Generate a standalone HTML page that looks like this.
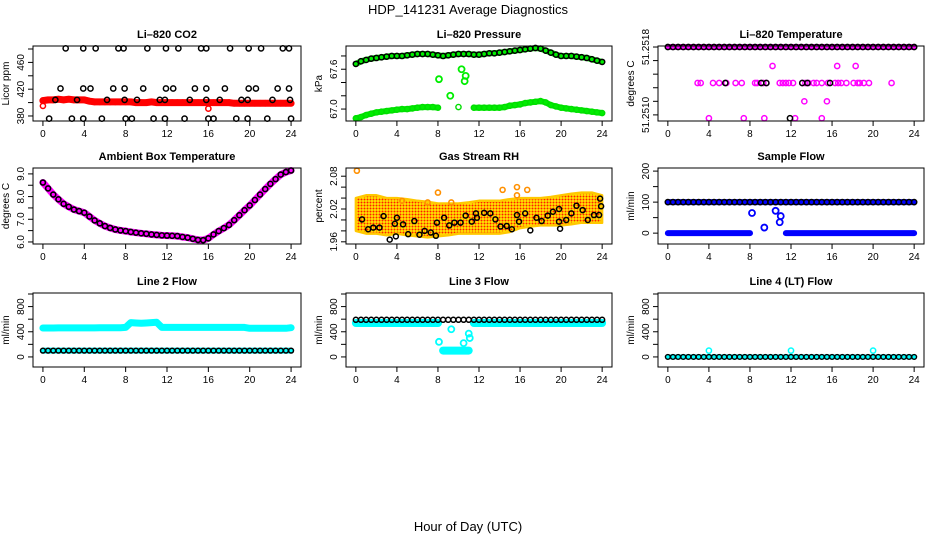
<!DOCTYPE html>
<html><head><meta charset="utf-8"><style>
html,body{margin:0;padding:0;background:#fff;}
svg{display:block;font-family:"Liberation Sans",sans-serif;}
</style></head><body>
<svg id="chart" width="936" height="540" viewBox="0 0 936 540" xmlns="http://www.w3.org/2000/svg">
<defs>
<pattern id="rhpat" width="3" height="3" patternUnits="userSpaceOnUse">
<rect width="3" height="3" fill="#ffe800"/><circle cx="1.5" cy="1.5" r="1" fill="#ff2000"/>
</pattern>
</defs>
<text x="468" y="14" text-anchor="middle" font-size="13">HDP_141231  Average Diagnostics</text>
<text x="468" y="531" text-anchor="middle" font-size="13">Hour of Day (UTC)</text>
</svg>
<script>
// ---------- data ----------
const hours = [0,0.5,1,1.5,2,2.5,3,3.5,4,4.5,5,5.5,6,6.5,7,7.5,8,8.5,9,9.5,10,10.5,11,11.5,12,12.5,13,13.5,14,14.5,15,15.5,16,16.5,17,17.5,18,18.5,19,19.5,20,20.5,21,21.5,22,22.5,23,23.5,24];
const xTicks = [0,4,8,12,16,20,24];
// CO2
const co2Red = [403,404,404,405,404,405,404,404,404,402,401,401,401,401,401,401,401,401,400,400,400,401,400,400,400,400,400,400,400,400,400,400,400,400,400,400,400,399,399,399,399,399,399,399,399,399,399,399,399];
const co2RedOutT = [0,16];
const co2RedOutV = [395,391];
const co2BlkT = [2.2,3.9,5.1,7.3,7.8,10.1,11.9,13.1,15.3,15.8,18.1,19.9,21.1,23.2,23.8, 1.7,3.9,4.6,6.8,7.9,9.7,11.9,12.6,14.7,15.8,17.6,19.9,20.6,22.7,23.8, 1.2,3.3,6.2,7.9,9.1,11.3,11.8,14.2,15.8,17.1,19.2,19.8,22.2,23.9, 0.6,2.8,3.9,5.7,8.0,8.6,10.7,11.8,13.7,16.0,16.5,18.7,19.8,21.7,24.0];
const co2BlkV = [481,481,481,481,481,481,481,481,481,481,481,481,481,481,481, 421,421,421,421,421,421,421,421,421,421,421,421,421,421,421, 404,404,404,404,404,404,404,404,404,404,404,404,404,404, 376,376,376,376,376,376,376,376,376,376,376,376,376,376,376];
// Pressure
const presTop = [67.68,67.72,67.74,67.76,67.77,67.78,67.79,67.8,67.8,67.8,67.81,67.82,67.83,67.83,67.83,67.82,67.81,67.8,67.81,67.82,67.83,67.83,67.83,67.82,67.82,67.83,67.84,67.84,67.85,67.86,67.87,67.88,67.89,67.9,67.91,67.92,67.91,67.88,67.85,67.82,67.8,67.8,67.8,67.79,67.78,67.77,67.75,67.73,67.71];
const presLow = [66.86,66.88,66.91,66.93,66.95,66.96,66.97,66.98,66.99,67.0,67.0,67.01,67.02,67.03,67.03,67.03,67.02,null,null,null,67.03,null,null,67.02,67.02,67.02,67.02,67.02,67.02,67.03,67.05,67.06,67.07,67.09,67.1,67.11,67.12,67.1,67.06,67.04,67.02,67.01,67.0,66.99,66.98,66.97,66.96,66.95,66.94];
const presOutT = [8.1,9.2,10.3,10.7,10.6];
const presOutV = [67.45,67.2,67.6,67.5,67.42];
// Li-820 temperature
const ltMagT = [2.9,3.2,4.4,5.0,5.7,6.6,7.2,8.5,8.7,9.3,9.6,10.9,11.2,11.5,11.8,12.2,13.1,13.4,13.7,14.2,14.5,15.0,15.6,16.3,16.6,16.9,17.4,18.1,18.5,18.7,19.1,19.6,21.8, 10.2,16.5,18.3, 13.3,15.5, 4.0,7.4,9.4,12.4,15.0];
const ltMagV = [51.25127,51.25127,51.25127,51.25127,51.25127,51.25127,51.25127,51.25127,51.25127,51.25127,51.25127,51.25127,51.25127,51.25127,51.25127,51.25127,51.25127,51.25127,51.25127,51.25127,51.25127,51.25127,51.25127,51.25127,51.25127,51.25127,51.25127,51.25127,51.25127,51.25127,51.25127,51.25127,51.25127, 51.25152,51.25152,51.25152, 51.2510,51.2510, 51.25075,51.25075,51.25075,51.25075,51.25075];
const ltBlkOutT = [5.6,9.1,9.6,13.1,13.6,15.8,11.9];
const ltBlkOutV = [51.25127,51.25127,51.25127,51.25127,51.25127,51.25127,51.25075];
const ltTop = 51.2518;
// Ambient temperature
const ambT = [8.62,8.36,8.09,7.88,7.68,7.55,7.43,7.36,7.29,7.12,6.95,6.82,6.70,6.62,6.55,6.51,6.48,6.44,6.41,6.38,6.36,6.33,6.31,6.29,6.28,6.27,6.26,6.22,6.19,6.14,6.09,6.08,6.16,6.33,6.48,6.61,6.75,6.96,7.18,7.40,7.61,7.85,8.09,8.33,8.56,8.77,8.97,9.08,9.15];
// Gas stream RH
const rhEnvT = [0,1,2,3,4,5,6,7,8,9,10,11,12,13,14,15,16,17,18,19,20,21,22,23,24];
const rhLow = [1.98,1.975,1.975,1.972,1.975,1.972,1.97,1.968,1.97,1.972,1.975,1.975,1.975,1.975,1.975,1.978,1.985,1.988,1.99,1.99,1.99,1.992,1.995,1.995,1.995];
const rhHigh = [2.04,2.045,2.045,2.04,2.04,2.038,2.035,2.033,2.03,2.03,2.03,2.032,2.035,2.035,2.035,2.038,2.04,2.04,2.04,2.042,2.045,2.048,2.05,2.05,2.045];
const rhOrT = [0.1,8.0,4.5,14.3,15.7,15.7,16.7,9.3,7.0];
const rhOrV = [2.09,2.05,2.035,2.055,2.06,2.045,2.055,2.032,2.032];
const rhBlkT = [0.6,1.2,1.7,2.3,2.7,3.3,3.8,3.9,4.0,4.6,5.1,5.7,6.2,6.7,7.3,7.8,7.9,8.6,9.1,9.6,10.2,10.7,11.3,11.7,11.8,12.5,13.1,13.6,14.1,14.7,15.2,15.7,15.9,16.5,17.0,17.6,18.1,18.7,19.2,19.8,19.8,19.9,20.5,21.0,21.5,22.1,22.6,23.2,23.7,23.8,23.9];
const rhBlkV = [2.001,1.983,1.986,1.986,2.007,1.964,1.993,1.970,2.004,1.992,1.974,1.998,1.973,1.980,1.977,1.971,1.995,2.004,1.990,1.995,1.995,2.008,1.997,2.012,2.004,2.013,2.012,2.001,1.988,1.989,1.983,2.009,1.997,2.012,1.981,2.004,1.998,2.008,2.015,2.020,1.997,1.984,2.000,2.012,2.026,2.018,2.000,2.009,2.009,2.039,2.025];
// Sample flow
const sfHigh = [100,100,100,100,100,100,100,100,100,100,100,100,100,100,100,100,100,100,100,100,100,100,100,100,100,100,100,100,100,100,100,100,100,100,100,100,100,100,100,100,100,100,100,100,100,100,100,100,100];
const sfLow = [0,0,0,0,0,0,0,0,0,0,0,0,0,0,0,0,0,null,null,null,0,null,null,0,0,0,0,0,0,0,0,0,0,0,0,0,0,0,0,0,0,0,0,0,0,0,0,0,0];
const sfOutT = [8.2,9.4,10.5,11.0,10.9];
const sfOutV = [65,18,72,55,35];
// Line 2
const l2Top = [460,460,460,462,462,462,462,462,462,462,462,465,465,465,465,465,470,545,540,535,540,545,550,470,470,470,470,470,470,470,470,470,470,470,470,470,470,470,470,470,455,455,455,455,455,455,455,455,465];
const l2Low = [100,100,100,100,100,100,100,100,100,100,100,100,100,100,100,100,100,100,100,100,100,100,100,100,100,100,100,100,100,100,100,100,100,100,100,100,100,100,100,100,100,100,100,100,100,100,100,100,100];
// Line 3
const l3Cyan = [540,540,540,540,540,540,540,540,540,540,540,540,540,540,540,540,540,100,100,100,100,100,100,540,540,540,540,540,540,540,540,540,540,540,540,540,540,540,540,540,540,540,540,540,540,540,540,540,540];
const l3Blk = [590,590,590,590,590,590,590,590,590,590,590,590,590,590,590,590,590,590,590,590,590,590,590,590,590,590,590,590,590,590,590,590,590,590,590,590,590,590,590,590,590,590,590,590,590,590,590,590,590];
const l3OutT = [8.1,9.3,10.5,11.0,11.1];
const l3OutV = [240,440,220,370,300];
// Line 4
const l4Zero = [0,0,0,0,0,0,0,0,0,0,0,0,0,0,0,0,0,0,0,0,0,0,0,0,0,0,0,0,0,0,0,0,0,0,0,0,0,0,0,0,0,0,0,0,0,0,0,0,0];
const l4SpikeT = [4,12,20];
const l4SpikeV = [100,100,100];

// ---------- drawing ----------
const NS = 'http://www.w3.org/2000/svg';
const svg = document.getElementById('chart');
function mk(tag, attrs, parent){ const e=document.createElementNS(NS,tag); for(const k in attrs) e.setAttribute(k,attrs[k]); (parent||svg).appendChild(e); return e; }

function panel(name, title, ylab, x0, y0, x1, y1, ylim, yTicks, yLabels){
  const g = mk('g',{});
  
  
  const sx = t => x0 + (t - (-0.96)) / 25.92 * (x1 - x0);
  const sy = v => y1 - (v - ylim[0]) / (ylim[1] - ylim[0]) * (y1 - y0);
  const tt = mk('text',{x:(x0+x1)/2, y:y0-8, 'text-anchor':'middle','font-size':11,'font-weight':'bold'}, g);
  tt.textContent = title;
  
  
  const yl = mk('text',{x:0,y:0,'text-anchor':'middle','font-size':10,transform:`translate(${x0-24},${(y0+y1)/2}) rotate(-90)`}, g);
  yl.textContent = ylab;
  
  
  const plot = mk('g',{}, g);
  
  
  const box = mk('rect',{x:x0,y:y0,width:x1-x0,height:y1-y0,fill:'none',stroke:'#000','stroke-width':1}, g);
  
  
  xTicks.forEach(t=>{
    mk('line',{x1:sx(t),x2:sx(t),y1:y1,y2:y1+5,stroke:'#000'}, g);
    const lb = mk('text',{x:sx(t),y:y1+16,'text-anchor':'middle','font-size':10}, g);
    lb.textContent = t;
    
    
  });
  yTicks.forEach((v,i)=>{
    mk('line',{x1:x0-5,x2:x0,y1:sy(v),y2:sy(v),stroke:'#000'}, g);
    if(yLabels[i]){
      const lb = mk('text',{x:0,y:0,'text-anchor':'middle','font-size':10,transform:`translate(${x0-9},${sy(v)}) rotate(-90)`}, g);
      lb.textContent = yLabels[i];
      
      
    }
  });
  return {g:plot, sx, sy};
}
function pts(p, ts, vs, color, nm, r, sw){
  for(let i=0;i<ts.length;i++){
    if(vs[i]===null||vs[i]===undefined) continue;
    const c = mk('circle',{cx:p.sx(ts[i]),cy:p.sy(vs[i]),r:r||2.6,fill:'none',stroke:color,'stroke-width':sw||1.5}, p.g);
    
    
  }
}
function band(p, ts, vs, color, nm, w){
  let seg=[]; let lastY=null;
  const flush=()=>{ if(seg.length>1){ const l=mk('polyline',{points:seg.join(' '),fill:'none',stroke:color,'stroke-width':w,'stroke-linejoin':'round','stroke-linecap':'round'}, p.g);
    
     } seg=[]; };
  for(let i=0;i<ts.length;i++){
    if(vs[i]===null){flush();lastY=null;continue;}
    const y = p.sy(vs[i]);
    if(lastY!==null && Math.abs(y-lastY)>12) flush();
    seg.push(p.sx(ts[i]).toFixed(1)+','+y.toFixed(1));
    lastY = y;
  }
  flush();
}

// Row 1
let p = panel('co2-panel','Li\u2013820 CO2','Licor ppm',33,46,301,121,[372.5,484.5],[380,400,420,440,460,480],['380','','420','','460','']);
band(p,hours,co2Red,'#ff0000','co2-red-band',7);
pts(p,hours,co2Red,'#ff0000','co2-red-point');
pts(p,co2RedOutT,co2RedOutV,'#ff0000','co2-red-outlier');
pts(p,co2BlkT,co2BlkV,'#000','co2-black-point');

p = panel('pressure-panel','Li\u2013820 Pressure','kPa',346,46,612,121,[66.82,67.95],[67.0,67.2,67.4,67.6,67.8],['67.0','','','67.6','']);
band(p,hours,presTop,'#00ee00','pressure-green-top',6);
band(p,hours,presLow,'#00ee00','pressure-green-low',6);
pts(p,hours,presLow,'#00dd00','pressure-green-point',2.6,1.4);
pts(p,presOutT,presOutV,'#00ee00','pressure-green-outlier',3,1.8);
pts(p,hours,presTop,'#000','pressure-black-point',2.6,1.5);

p = panel('li-temp-panel','Li\u2013820 Temperature','degrees C',658,46,924,121,[51.25071,51.251815],[51.2518,51.2516,51.2514,51.2512,51.2510,51.2508],['51.2518','','','','','51.2510']);
band(p,hours,hours.map(()=>ltTop),'#ff00ff','li-temp-magenta-band',6);
pts(p,ltMagT,ltMagV,'#ff00ff','li-temp-magenta-point',2.6,1.5);
pts(p,ltBlkOutT,ltBlkOutV,'#000','li-temp-black-outlier');
pts(p,hours,hours.map(()=>ltTop),'#000','li-temp-black-point');

// Row 2
p = panel('ambient-temp-panel','Ambient Box Temperature','degrees C',33,168,301,244,[5.91,9.26],[6,6.5,7,7.5,8,8.5,9],['6.0','','7.0','','8.0','','9.0']);
band(p,hours,ambT,'#ff00ff','ambient-magenta-band',7);
pts(p,hours,ambT,'#000','ambient-black-point',2.5,1.6);

p = panel('rh-panel','Gas Stream RH','percent',346,168,612,244,[1.956,2.095],[1.96,1.98,2.00,2.02,2.04,2.06,2.08],['1.96','','','2.02','','','2.08']);
{
  const top = rhEnvT.map((t,i)=>p.sx(t).toFixed(1)+','+p.sy(rhHigh[i]).toFixed(1));
  const bot = rhEnvT.map((t,i)=>p.sx(t).toFixed(1)+','+p.sy(rhLow[i]).toFixed(1)).reverse();
  const poly = mk('polygon',{points:top.concat(bot).join(' '),fill:'url(#rhpat)',stroke:'#ffc800','stroke-width':2.5,'stroke-linejoin':'round'}, p.g);
  
  
}
pts(p,rhOrT,rhOrV,'#ff9000','rh-orange-outlier',2.5,1.6);
pts(p,rhBlkT,rhBlkV,'#000','rh-black-point',2.5,1.5);

p = panel('sample-flow-panel','Sample Flow','ml/min',658,168,924,244,[-35,210],[0,50,100,150,200],['0','','100','','200']);
band(p,hours,sfHigh,'#0000ff','sample-flow-blue-high',6);
band(p,hours,sfLow,'#0000ff','sample-flow-blue-low',6);
pts(p,sfOutT,sfOutV,'#0000ff','sample-flow-blue-outlier',3,1.8);
pts(p,hours,sfHigh,'#000','sample-flow-black-point');

// Row 3
const fl = [-160,1016], flT=[0,200,400,600,800,1000], flL=['0','','400','','800',''];
p = panel('line2-flow-panel','Line 2 Flow','ml/min',33,293,301,367,fl,flT,flL);
band(p,hours,l2Top,'#00ffff','line2-cyan-high',7);
band(p,hours,l2Low,'#00ffff','line2-cyan-low',6);
pts(p,hours,l2Low,'#000','line2-black-point',2.4,1.5);

p = panel('line3-flow-panel','Line 3 Flow','ml/min',346,293,612,367,fl,flT,flL);
band(p,hours,l3Cyan,'#00ffff','line3-cyan-band',8);
pts(p,l3OutT,l3OutV,'#00ffff','line3-cyan-outlier',3,1.8);
pts(p,hours,l3Blk,'#000','line3-black-point',2.5,1.5);

p = panel('line4-flow-panel','Line 4 (LT) Flow','ml/min',658,293,924,367,fl,flT,flL);
band(p,hours,l4Zero,'#00ffff','line4-cyan-band',5);
pts(p,l4SpikeT,l4SpikeV,'#00ffff','line4-cyan-spike',2.6,1.5);
pts(p,hours,l4Zero,'#000','line4-black-point',2.4,1.4);
</script>
</body></html>
